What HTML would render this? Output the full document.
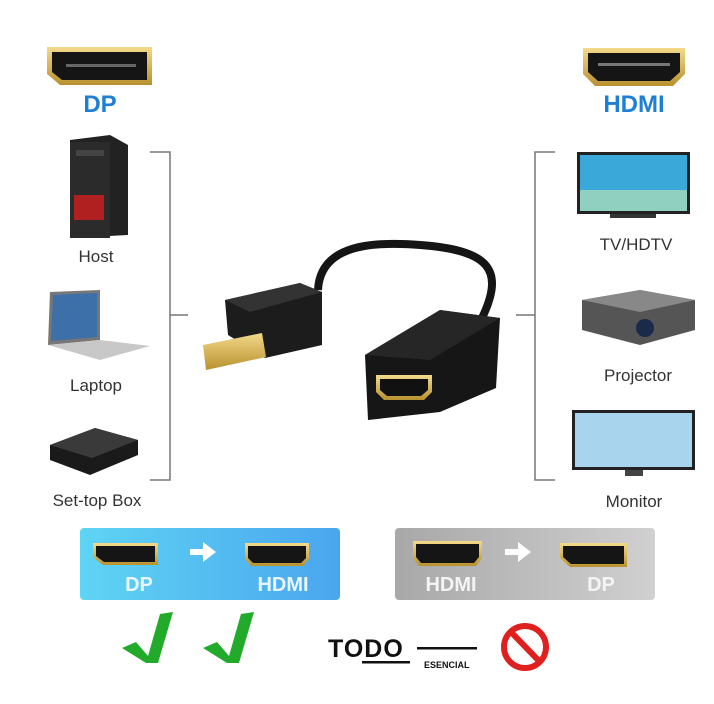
<!DOCTYPE html>
<html><head><style>
html,body{margin:0;padding:0;background:#fff;}
svg{display:block;}
text{font-family:"Liberation Sans",sans-serif;}
</style></head><body>
<svg width="714" height="704" viewBox="0 0 714 704" xmlns="http://www.w3.org/2000/svg">
<defs>
<linearGradient id="blue" x1="0" x2="1"><stop offset="0" stop-color="#5fd4f4"/><stop offset="1" stop-color="#4aa6ee"/></linearGradient>
<linearGradient id="gray" x1="0" x2="1"><stop offset="0" stop-color="#a8a8a8"/><stop offset="1" stop-color="#d0d0d0"/></linearGradient>
<linearGradient id="gold" x1="0" x2="0" y1="0" y2="1"><stop offset="0" stop-color="#f3d98a"/><stop offset="1" stop-color="#b8912f"/></linearGradient>
</defs>
<rect width="714" height="704" fill="#fff"/>
<!-- top DP icon -->
<path d="M47 47 H152 V85 H60 L47 74 Z" fill="url(#gold)"/>
<path d="M52 52 H147 V80 H62 L52 72 Z" fill="#151515"/>
<rect x="66" y="64" width="70" height="3" fill="#666"/>
<text x="100" y="112" font-size="24" font-weight="bold" fill="#1f7fd6" text-anchor="middle">DP</text>
<!-- top HDMI icon -->
<path d="M583 48 H685 V74 L673 86 H595 L583 74 Z" fill="url(#gold)"/>
<path d="M588 53 H680 V72 L670 81 H598 L588 72 Z" fill="#151515"/>
<rect x="598" y="63" width="72" height="3" fill="#777"/>
<text x="634" y="112" font-size="24" font-weight="bold" fill="#1f7fd6" text-anchor="middle">HDMI</text>
<!-- brackets -->
<g stroke="#777" stroke-width="1.5" fill="none">
<path d="M150 152 H170 V480 H150"/><path d="M170 315 H188"/>
<path d="M555 152 H535 V480 H555"/><path d="M535 315 H516"/>
</g>
<!-- Host PC -->
<path d="M70 140 L110 135 L128 145 L128 235 L70 238 Z" fill="#222"/>
<rect x="70" y="142" width="40" height="96" fill="#2b2b2b"/>
<rect x="74" y="195" width="30" height="25" fill="#b02020"/>
<rect x="76" y="150" width="28" height="6" fill="#444"/>
<text x="96" y="262" font-size="17" fill="#333" text-anchor="middle">Host</text>
<!-- Laptop -->
<path d="M50 292 L100 290 L100 340 L48 345 Z" fill="#777"/>
<path d="M53 295 L97 293 L97 337 L51 341 Z" fill="#3d6fa8"/>
<path d="M48 345 L100 340 L150 346 L100 360 Z" fill="#c8c8c8"/>
<text x="96" y="391" font-size="17" fill="#333" text-anchor="middle">Laptop</text>
<!-- Set-top box -->
<path d="M50 445 L95 428 L138 440 L138 455 L90 475 L50 460 Z" fill="#1a1a1a"/>
<path d="M50 445 L95 428 L138 440 L92 458 Z" fill="#3a3a3a"/>
<text x="97" y="506" font-size="17" fill="#333" text-anchor="middle">Set-top Box</text>
<!-- TV -->
<rect x="577" y="152" width="113" height="62" fill="#222"/>
<rect x="580" y="155" width="107" height="56" fill="#3aa8d8"/>
<rect x="580" y="190" width="107" height="21" fill="#8fd0c0"/>
<rect x="610" y="214" width="46" height="4" fill="#333"/>
<text x="636" y="250" font-size="17" fill="#333" text-anchor="middle">TV/HDTV</text>
<!-- Projector -->
<path d="M582 300 L640 290 L695 300 L695 330 L640 345 L582 330 Z" fill="#555"/>
<path d="M582 300 L640 290 L695 300 L640 312 Z" fill="#888"/>
<circle cx="645" cy="328" r="9" fill="#1a2a4a"/>
<text x="638" y="381" font-size="17" fill="#333" text-anchor="middle">Projector</text>
<!-- Monitor -->
<rect x="572" y="410" width="123" height="60" fill="#222"/>
<rect x="575" y="413" width="117" height="54" fill="#a8d4ee"/>
<rect x="625" y="470" width="18" height="6" fill="#444"/>
<text x="634" y="507" font-size="17" fill="#333" text-anchor="middle">Monitor</text>
<!-- adapter -->
<path d="M318 290 C320 250 360 240 420 245 C490 250 505 270 482 318" stroke="#151515" stroke-width="8" fill="none"/>
<path d="M225 300 L300 283 L322 292 L322 345 L265 358 L228 335 Z" fill="#1c1c1c"/>
<path d="M225 300 L300 283 L322 292 L250 312 Z" fill="#333"/>
<path d="M203 345 L262 333 L266 357 L206 370 Z" fill="url(#gold)"/>
<path d="M365 355 L440 310 L500 318 L496 388 L440 412 L368 420 Z" fill="#161616"/>
<path d="M365 355 L440 310 L500 318 L430 360 Z" fill="#262626"/>
<path d="M376 375 H432 V392 L424 400 H384 L376 392 Z" fill="url(#gold)"/>
<path d="M380 379 H428 V390 L421 396 H387 L380 390 Z" fill="#111"/>
<!-- blue panel -->
<rect x="80" y="528" width="260" height="72" rx="4" fill="url(#blue)"/>
<path d="M93 543 H158 V565 H103 L93 557 Z" fill="url(#gold)"/>
<path d="M96 546 H155 V562 H104 L96 556 Z" fill="#151515"/>
<path d="M190 549 H203 V542 L216 552 L203 562 V555 H190 Z" fill="#fff"/>
<path d="M245 543 H309 V559 L303 566 H251 L245 559 Z" fill="url(#gold)"/>
<path d="M248 546 H306 V558 L301 563 H253 L248 558 Z" fill="#151515"/>
<text x="139" y="591" font-size="20" font-weight="bold" fill="#eaf6ff" text-anchor="middle">DP</text>
<text x="283" y="591" font-size="20" font-weight="bold" fill="#eaf6ff" text-anchor="middle">HDMI</text>
<!-- gray panel -->
<rect x="395" y="528" width="260" height="72" rx="4" fill="url(#gray)"/>
<path d="M413 541 H482 V558 L476 566 H419 L413 558 Z" fill="url(#gold)"/>
<path d="M416 544 H479 V557 L474 563 H421 L416 557 Z" fill="#151515"/>
<path d="M505 549 H518 V542 L531 552 L518 562 V555 H505 Z" fill="#fff"/>
<path d="M560 543 H627 V567 H570 L560 558 Z" fill="url(#gold)"/>
<path d="M563 546 H624 V564 H571 L563 557 Z" fill="#151515"/>
<text x="451" y="591" font-size="20" font-weight="bold" fill="#f4f4f4" text-anchor="middle">HDMI</text>
<text x="601" y="591" font-size="20" font-weight="bold" fill="#f4f4f4" text-anchor="middle">DP</text>
<!-- checks -->
<path d="M122 648 L136 642 L148 656 L160 614 L173 612 L158 663 L146 663 Z" fill="#22aa2a"/>
<path d="M203 648 L217 642 L229 656 L241 614 L254 612 L239 663 L227 663 Z" fill="#22aa2a"/>
<!-- TODO logo -->
<text x="328" y="657" font-size="25" font-weight="bold" fill="#111" letter-spacing="1">TODO</text>
<rect x="362" y="661" width="48" height="2.5" fill="#111"/>
<rect x="417" y="647" width="60" height="2.5" fill="#111"/>
<text x="424" y="668" font-size="9" font-weight="bold" fill="#111">ESENCIAL</text>
<!-- no sign -->
<circle cx="525" cy="647" r="21" fill="none" stroke="#e0201e" stroke-width="6"/>
<path d="M511 632 L540 662" stroke="#e0201e" stroke-width="6"/>
</svg>
</body></html>
